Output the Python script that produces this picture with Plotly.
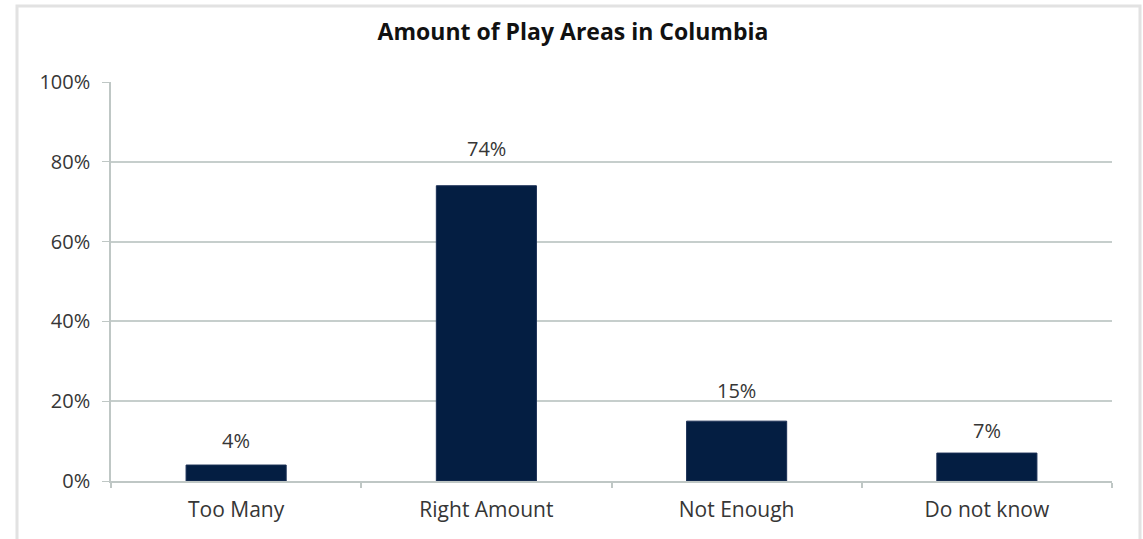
import plotly.graph_objects as go

categories = ["Too Many", "Right Amount", "Not Enough", "Do not know"]
values = [4, 74, 15, 7]
labels = [f"{v}%" for v in values]
y_ticks = [0, 20, 40, 60, 80, 100]
y_tick_text = [f"{t}%" for t in y_ticks]

W, H = 1143, 539
ml, mr, mt, mb = 111, 31, 82, 58
pw, ph = W - ml - mr, H - mt - mb
TXT = "#363636"
label_shift = [9, 22, 15, 7]

fig = go.Figure(go.Bar(
    x=categories, y=values,
    marker=dict(color="#041E42", line=dict(color="#1a2f55", width=1)),
    width=0.4,
))

for c, v, t, s in zip(categories, values, labels, label_shift):
    fig.add_annotation(x=c, y=v, text=t, showarrow=False, yanchor="bottom", yshift=s,
                       font=dict(family="Open Sans", size=20, color=TXT))

fig.update_layout(
    width=W, height=H,
    margin=dict(l=ml, r=mr, t=mt, b=mb),
    paper_bgcolor="white", plot_bgcolor="white",
    showlegend=False,
    title=dict(text="<b>Amount of Play Areas in Columbia</b>", x=573 / W, xanchor="center",
               y=1 - 32 / H, yanchor="middle", yref="container",
               font=dict(family="Open Sans", size=23, color="#111111")),
    font=dict(family="Open Sans", color=TXT),
    xaxis=dict(type="category", showgrid=False, showline=True, linecolor="#bfc7c5", linewidth=2,
               ticks="outside", tickson="boundaries", ticklen=5, tickcolor="#bfc7c5", tickwidth=1.5,
               tickfont=dict(family="Open Sans", size=21, color=TXT), ticklabelstandoff=9),
    yaxis=dict(range=[0, 100], tickvals=y_ticks, ticktext=y_tick_text, showgrid=True,
               gridcolor="#c6cecc", gridwidth=2, zeroline=False, showline=True, linecolor="#bfc7c5",
               linewidth=1.5, ticks="outside", ticklen=7, tickcolor="#bfc7c5",
               tickfont=dict(family="Open Sans", size=20, color=TXT), ticklabelstandoff=8),
)

# card border with faint shadow
x0 = (17 - ml) / pw
x1 = (1140 - ml) / pw
y1 = (H - mb - 6) / ph
y0 = -(mb + 20) / ph
fig.add_shape(type="rect", xref="paper", yref="paper", x0=x0, x1=x1, y0=y0, y1=y1,
              line=dict(color="#e2e2e2", width=3), layer="below")

fig.write_html("out.html")
